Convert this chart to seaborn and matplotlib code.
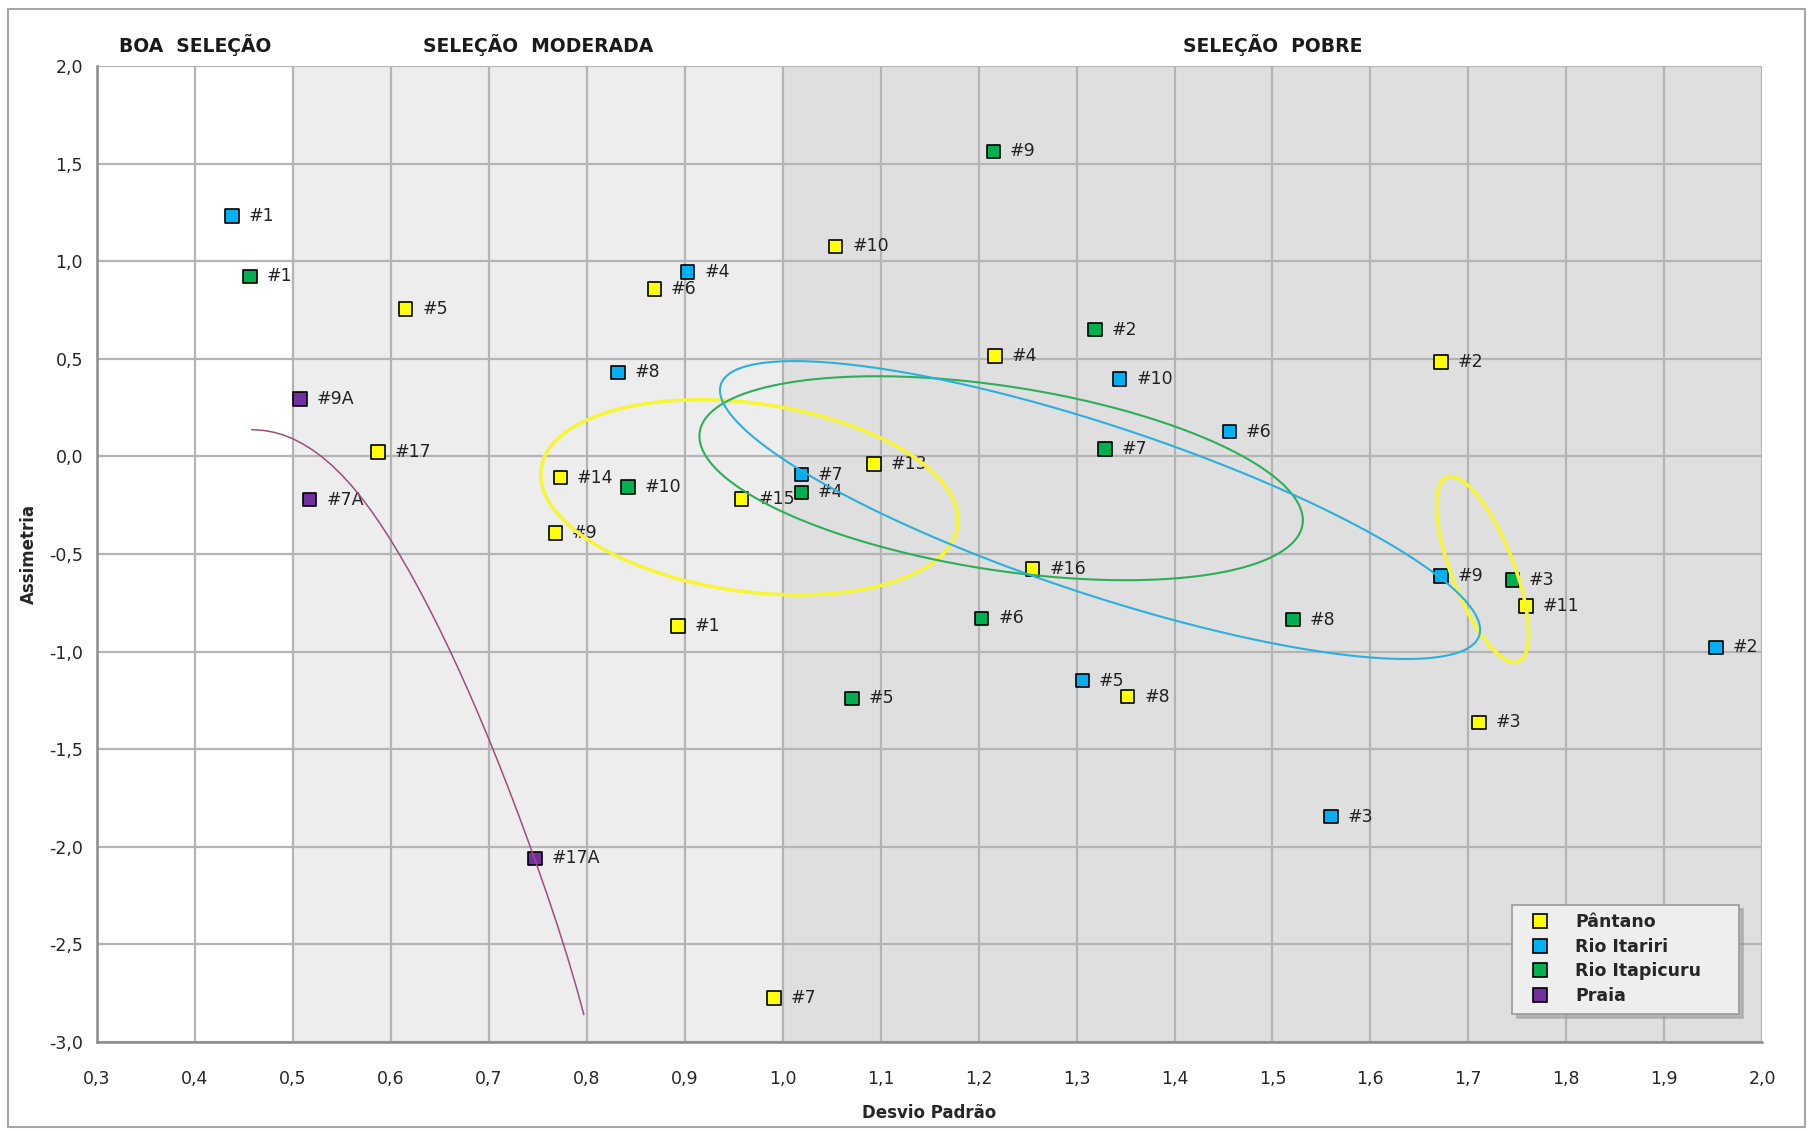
import numpy as np
import pandas as pd
import matplotlib
matplotlib.use("Agg")
import matplotlib.pyplot as plt
from matplotlib.lines import Line2D
from matplotlib.patches import Rectangle
import seaborn as sns

# ---- sample data: standard deviation (x) vs skewness (y) ----
pantano_ids = ["#10", "#6", "#5", "#4", "#2", "#17", "#14", "#13", "#15", "#9",
               "#16", "#1", "#11", "#8", "#3", "#7"]
pantano_x = [1.054, 0.869, 0.615, 1.217, 1.672, 0.587, 0.773, 1.093, 0.958, 0.768,
             1.255, 0.893, 1.759, 1.352, 1.711, 0.991]
pantano_y = [1.076, 0.857, 0.756, 0.513, 0.483, 0.021, -0.109, -0.039, -0.219, -0.393,
             -0.577, -0.870, -0.767, -1.231, -1.363, -2.775]

itariri_ids = ["#1", "#4", "#8", "#10", "#6", "#7", "#9", "#2", "#5", "#3"]
itariri_x = [0.438, 0.903, 0.832, 1.344, 1.456, 1.019, 1.672, 1.953, 1.306, 1.560]
itariri_y = [1.230, 0.945, 0.430, 0.395, 0.127, -0.094, -0.613, -0.979, -1.149, -1.845]

itapicuru_ids = ["#1", "#9", "#2", "#7", "#10", "#4", "#6", "#8", "#5", "#3"]
itapicuru_x = [0.456, 1.215, 1.319, 1.329, 0.842, 1.019, 1.203, 1.521, 1.071, 1.745]
itapicuru_y = [0.922, 1.562, 0.649, 0.038, -0.156, -0.185, -0.830, -0.836, -1.240, -0.634]

praia_ids = ["#9A", "#7A", "#17A"]
praia_x = [0.507, 0.517, 0.747]
praia_y = [0.294, -0.222, -2.060]

groups = ["Pântano", "Rio Itariri", "Rio Itapicuru", "Praia"]
colors = ["#FFFF00", "#00B0F0", "#00B050", "#7030A0"]

# trend curve for the beach samples
curve_x = [0.458, 0.470, 0.480, 0.490, 0.500, 0.510, 0.520, 0.530, 0.540, 0.550,
           0.560, 0.570, 0.580, 0.590, 0.600, 0.610, 0.620, 0.630, 0.640, 0.650,
           0.660, 0.670, 0.680, 0.690, 0.700, 0.710, 0.720, 0.730, 0.740, 0.750,
           0.760, 0.770, 0.780, 0.790, 0.797]
curve_y = [0.137, 0.133, 0.124, 0.110, 0.090, 0.064, 0.033, -0.004, -0.047, -0.096,
           -0.151, -0.212, -0.279, -0.352, -0.430, -0.513, -0.600, -0.692, -0.788, -0.888,
           -0.992, -1.100, -1.212, -1.328, -1.448, -1.572, -1.700, -1.832, -1.968, -2.108,
           -2.252, -2.402, -2.560, -2.730, -2.860]

# grouping ellipses: centre x, centre y, half width, half height, x-offset of top point
ellipse_groups = ["Pântano", "Pântano", "Rio Itapicuru", "Rio Itariri"]
ellipse_cx = [0.966, 1.7145, 1.223, 1.324]
ellipse_cy = [-0.210, -0.579, -0.112, -0.275]
ellipse_w = [0.213, 0.047, 0.308, 0.388]
ellipse_h = [0.500, 0.476, 0.5225, 0.763]
ellipse_dx = [-0.050, -0.0325, -0.127, -0.312]

# sorting classes along the x axis
class_names = ["BOA  SELEÇÃO", "SELEÇÃO  MODERADA", "SELEÇÃO  POBRE"]
class_edges = [0.3, 0.5, 1.0, 2.0]
class_label_x = [0.4, 0.75, 1.5]

x_ticks = [round(0.3 + 0.1 * i, 1) for i in range(18)]
y_ticks = [round(-3.0 + 0.5 * i, 1) for i in range(11)]

# ---- build table ----
frames = []
for g, ids, xs, ys in zip(groups,
                          [pantano_ids, itariri_ids, itapicuru_ids, praia_ids],
                          [pantano_x, itariri_x, itapicuru_x, praia_x],
                          [pantano_y, itariri_y, itapicuru_y, praia_y]):
    frames.append(pd.DataFrame({"amostra": ids, "Desvio Padrão": xs,
                                "Assimetria": ys, "grupo": g}))
df = pd.concat(frames, ignore_index=True)
palette = dict(zip(groups, colors))

sns.set_style("white")
plt.rcParams["font.family"] = ["DejaVu Sans"]

fig = plt.figure(figsize=(18.13, 11.31), dpi=100)
ax = fig.add_axes([0.0535, 0.0787, 0.9185, 0.863])

ax.set_xlim(0.3, 2.0)
ax.set_ylim(-3.0, 2.0)

# background bands
band_colors = ["#FFFFFF", "#EDEDED", "#DFDFDF"]
for i in range(3):
    ax.axvspan(class_edges[i], class_edges[i + 1], color=band_colors[i], zorder=0, lw=0)

ax.set_xticks(x_ticks)
ax.set_yticks(y_ticks)
ax.set_xticklabels([f"{v:.1f}".replace(".", ",") for v in x_ticks])
ax.set_yticklabels([f"{v:.1f}".replace(".", ",") for v in y_ticks])
ax.grid(True, color="#B4B4B4", lw=1.6, zorder=1)
ax.set_axisbelow(True)
for s in ["top", "right"]:
    ax.spines[s].set_visible(False)
for s in ["left", "bottom"]:
    ax.spines[s].set_color("#8C8C8C")
    ax.spines[s].set_linewidth(1.8)
ax.tick_params(axis="y", length=6, width=1.5, color="#8C8C8C", labelsize=12.5, pad=4)
ax.tick_params(axis="x", length=0, labelsize=12.5, pad=20)

sns.scatterplot(data=df, x="Desvio Padrão", y="Assimetria", hue="grupo",
                palette=palette, marker="s", s=95, edgecolor="black",
                linewidth=1.2, legend=False, ax=ax, zorder=3)

for _, r in df.iterrows():
    ax.annotate(r["amostra"], (r["Desvio Padrão"], r["Assimetria"]),
                xytext=(12, 0), textcoords="offset points", ha="left",
                va="center", fontsize=12.5, color="#222222", zorder=4)

# beach trend curve
ax.plot(curve_x, curve_y, color="#9C4E7C", lw=1.1, zorder=5)

# grouping ellipses
t = np.linspace(0, 2 * np.pi, 500)
for g, cx, cy, w, h, dx in zip(ellipse_groups, ellipse_cx, ellipse_cy,
                               ellipse_w, ellipse_h, ellipse_dx):
    sxy = dx * h
    c = sxy / w
    d = np.sqrt(max(h ** 2 - c ** 2, 1e-12))
    ex = cx + w * np.cos(t)
    ey = cy + c * np.cos(t) + d * np.sin(t)
    lw = 2.6 if g == "Pântano" else 1.5
    col = {"Pântano": "#F5F53A", "Rio Itapicuru": "#2EAE5A",
           "Rio Itariri": "#2BB0DC"}[g]
    ax.plot(ex, ey, color=col, lw=lw, zorder=5, solid_capstyle="round")

# class headers
for name, xc in zip(class_names, class_label_x):
    ax.text(xc, 1.021, name, transform=ax.get_xaxis_transform(), ha="center",
            va="center", fontsize=13.5, fontweight="bold",
            family=["DejaVu Sans"], color="#1A1A1A")

ax.set_xlabel("Desvio Padrão", fontsize=12, fontweight="bold", labelpad=12)
ax.set_ylabel("Assimetria", fontsize=12, fontweight="bold", labelpad=8)

# legend
handles = [Line2D([0], [0], marker="s", ls="none", markersize=10,
                  markerfacecolor=c, markeredgecolor="black", markeredgewidth=1.2)
           for c in colors]
leg = ax.legend(handles, groups, loc="lower left",
                bbox_to_anchor=(0.850, 0.029, 0.136, 0.11), mode="expand",
                borderaxespad=0, frameon=True, fancybox=False, handletextpad=0.9,
                borderpad=0.5, labelspacing=0.38, handlelength=2.2,
                shadow={"color": "#9A9A9A", "alpha": 0.6, "ox": 3, "oy": -3},
                prop={"weight": "bold", "size": 12.5})
leg.get_frame().set_facecolor("#EEEEEE")
leg.get_frame().set_edgecolor("#9A9A9A")
leg.get_frame().set_linewidth(1.2)
leg.set_zorder(6)

# chart area border
fig.patches.append(Rectangle((8 / 1813, 4 / 1131), 1797 / 1813, 1118 / 1131,
                             transform=fig.transFigure, fill=False,
                             edgecolor="#A6A6A6", lw=1.5))

fig.savefig("out.png", dpi=100)
